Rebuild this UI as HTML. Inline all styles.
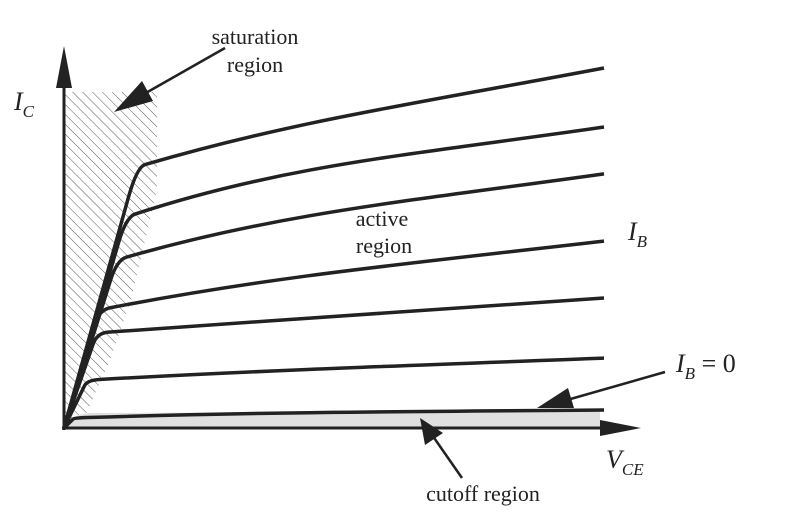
<!DOCTYPE html>
<html><head><meta charset="utf-8"><style>
body{margin:0;background:#fff}
svg{display:block}
text{font-family:"Liberation Serif",serif;fill:#222}
</style></head><body>
<svg id="chart" width="799" height="529" viewBox="0 0 799 529" xmlns="http://www.w3.org/2000/svg">
<defs>
<pattern id="hatch" patternUnits="userSpaceOnUse" width="7" height="7" patternTransform="rotate(-45)">
<line x1="0" y1="0" x2="0" y2="7" stroke="#444" stroke-width="0.9"/>
</pattern>
</defs>
<polygon points="64,92 157,92 157,190 131,300 110,360 88,410 78,428 64,428" fill="url(#hatch)"/>
<path d="M66,428 Q70,414 90,413 L600,411 L600,428 Z" fill="#e0e0e0"/>
<g id="curves"></g>
<line x1="64" y1="430" x2="64" y2="80" stroke="#222" stroke-width="3"/>
<polygon points="64,46 56,88 72,88" fill="#222"/>
<line x1="62" y1="428" x2="610" y2="428" stroke="#222" stroke-width="3"/>
<polygon points="641,428 600,420 600,436" fill="#222"/>
<g>
<line x1="225" y1="48" x2="130" y2="102" stroke="#222" stroke-width="2.5"/>
<polygon points="114,112 142,81 153,101" fill="#222"/>
</g>
<g>
<line x1="665" y1="372" x2="560" y2="402" stroke="#222" stroke-width="2.5"/>
<polygon points="537,408 568,388 574,408" fill="#222"/>
</g>
<g>
<line x1="462" y1="478" x2="430" y2="432" stroke="#222" stroke-width="2.5"/>
<polygon points="420,418 443,433 425,445" fill="#222"/>
</g>
<text x="255" y="44" font-size="22" text-anchor="middle">saturation</text>
<text x="255" y="72" font-size="22" text-anchor="middle">region</text>
<text x="382" y="226" font-size="22" text-anchor="middle">active</text>
<text x="384" y="253" font-size="22" text-anchor="middle">region</text>
<text x="14" y="110" font-size="26" font-style="italic">I<tspan font-size="17" dy="7">C</tspan></text>
<text x="628" y="240" font-size="26" font-style="italic">I<tspan font-size="17" dy="7">B</tspan></text>
<text x="676" y="372" font-size="26"><tspan font-style="italic">I</tspan><tspan font-size="17" dy="7" font-style="italic">B</tspan><tspan dy="-7"> = 0</tspan></text>
<text x="606" y="468" font-size="26" font-style="italic">V<tspan font-size="17" dy="7">CE</tspan></text>
<text x="483" y="501" font-size="22" text-anchor="middle">cutoff region</text>
</svg>
<script>
// data: collector current curves for increasing base currents (top to bottom)
const kneeV = [1.35, 1.15, 0.98, 0.65, 0.61, 0.43, 0.19];
const kneeI = [7.25, 5.86, 4.67, 3.28, 2.64, 1.33, 0.28];
const midV = 3.24;
const midI = [8.08, 6.89, 5.64, 4.03, 2.92, 1.56, 0.42];
const endV = 10;
const endI = [10.0, 8.36, 7.06, 5.19, 3.61, 1.94, 0.5];

const xS = v => 64 + v * 54;
const yS = i => 428 - i * 36;
const g = document.getElementById('curves');
for (let k = 0; k < kneeV.length; k++) {
  const x0 = xS(0), y0 = yS(0);
  const kx = xS(kneeV[k]), ky = yS(kneeI[k]);
  const mx = xS(midV), my = yS(midI[k]);
  const ex = xS(endV), ey = yS(endI[k]);
  const ax = x0 + (kx - x0) * 0.88, ay = y0 + (ky - y0) * 0.88;
  const bx = kx + (mx - kx) * 0.08, by = ky + (my - ky) * 0.08;
  const L = Math.hypot(ex - bx, ey - by) / 3;
  const u1 = Math.hypot(mx - kx, my - ky), u2 = Math.hypot(ex - mx, ey - my);
  const c1x = bx + (mx - kx) / u1 * L, c1y = by + (my - ky) / u1 * L;
  const c2x = ex - (ex - mx) / u2 * L * 1.2, c2y = ey - (ey - my) / u2 * L * 1.2;
  const d = `M${x0},${y0} L${ax},${ay} Q${kx},${ky} ${bx},${by} C${c1x},${c1y} ${c2x},${c2y} ${ex},${ey}`;
  const p = document.createElementNS('http://www.w3.org/2000/svg', 'path');
  p.setAttribute('d', d);
  p.setAttribute('fill', 'none');
  p.setAttribute('stroke', '#222');
  p.setAttribute('stroke-width', '3.5');
  p.setAttribute('stroke-linejoin', 'round');
  
  
  g.appendChild(p);
}
</script>
</body></html>
